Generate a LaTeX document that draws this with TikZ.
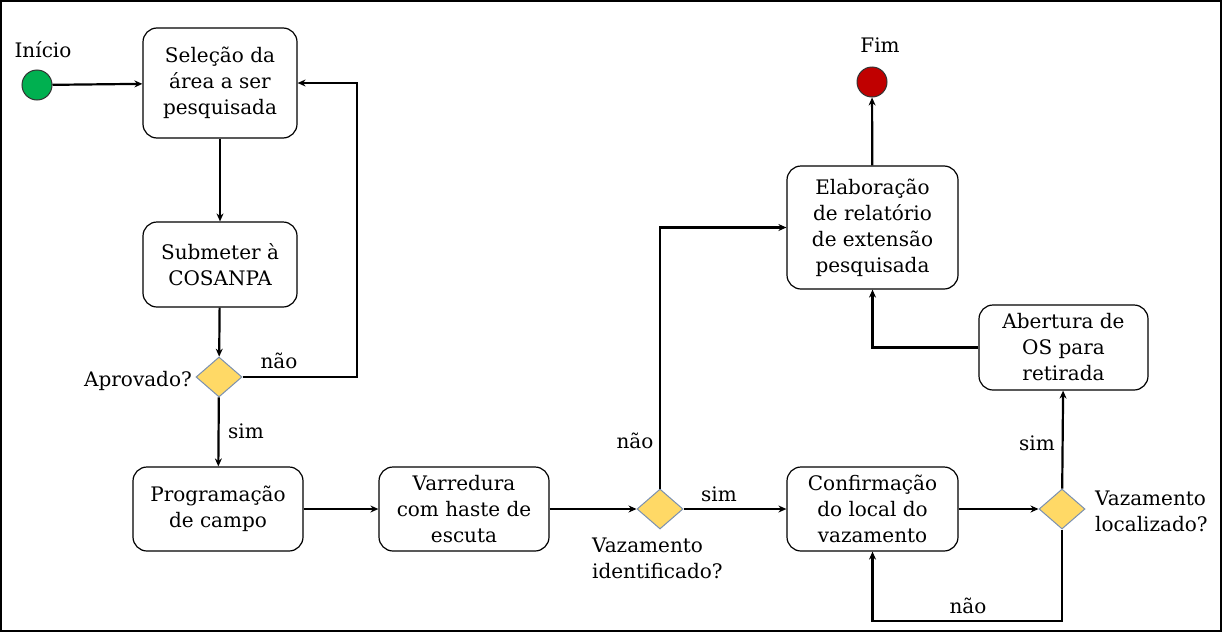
\documentclass[tikz,border=0pt]{standalone}
\usepackage{fontspec}
\setmainfont{DejaVu Serif}
\usetikzlibrary{shapes.geometric,arrows.meta}
\definecolor{startg}{HTML}{00B050}
\definecolor{endr}{HTML}{C00000}
\definecolor{dfill}{HTML}{FFD966}
\definecolor{dline}{HTML}{7A90B0}
\tikzset{
  box/.style={draw, rounded corners=14pt, line width=1.2pt, align=center, inner sep=2pt,
    font=\fontsize{20}{26}\selectfont},
  dec/.style={draw=dline, fill=dfill, diamond, aspect=1.15, minimum width=46pt, minimum height=40pt, inner sep=0pt, line width=1pt},
  term/.style={circle, draw=black!80, line width=1pt, minimum size=30pt, inner sep=0pt},
  conn/.style={line width=2.2pt, -{Stealth[length=8pt,width=7pt]}},
  lbl/.style={font=\fontsize{20}{26}\selectfont, inner sep=0pt, align=left},
}
\begin{document}
\begin{tikzpicture}[x=1pt,y=-1pt]
\useasboundingbox (0,0) rectangle (1222,632);
\draw[line width=2.2pt] (1,1) rectangle (1221,631);

% nodes
\node[term, fill=startg] (start) at (37,85) {};
\node[lbl] (tstart) at (43,50) {Início};
\node[box, minimum width=154pt, minimum height=110pt] (b1) at (220,83) {Seleção da\\área a ser\\pesquisada};
\node[box, minimum width=154pt, minimum height=85pt] (b2) at (220,264.5) {Submeter à\\COSANPA};
\node[dec] (d1) at (219,377) {};
\node[lbl, anchor=east] (t1) at (192,381) {Aprovado?};
\node[lbl] (nao1) at (279,361) {não};
\node[lbl] (sim1) at (246,431) {sim};
\node[box, minimum width=170pt, minimum height=84pt] (b3) at (218,509) {Programação\\de campo};
\node[box, minimum width=170pt, minimum height=84pt] (b4) at (464,509) {Varredura\\com haste de\\escuta};
\node[dec] (d2) at (660,509) {};
\node[lbl, anchor=north west] (t2) at (592,538) {Vazamento\\identificado?};
\node[lbl] (nao2) at (635,441) {não};
\node[lbl] (sim2) at (719,494) {sim};
\node[box, minimum width=171pt, minimum height=84pt] (b6) at (872.5,509) {Confirmação\\do local do\\vazamento};
\node[dec] (d3) at (1062,509) {};
\node[lbl, anchor=west] (t3) at (1095,511) {Vazamento\\localizado?};
\node[lbl] (sim3) at (1037,443) {sim};
\node[lbl] (nao3) at (968,606) {não};
\node[box, minimum width=169pt, minimum height=85pt] (b7) at (1063.5,347.5) {Abertura de\\OS para\\retirada};
\node[box, minimum width=171pt, minimum height=123pt] (b5) at (872.5,227.5) {Elaboração\\de relatório\\de extensão\\pesquisada};
\node[term, fill=endr] (fim) at (872,82) {};
\node[lbl] (tfim) at (880,45) {Fim};

\coordinate (c1) at (357,377);
\coordinate (c3) at (1062,621);

% connectors
\draw[conn] (start) -- (b1);
\draw[conn] (b1) -- (b2);
\draw[conn] (b2) -- (d1);
\draw[conn] (d1.east) -- (c1) |- (b1.east);
\draw[conn] (d1) -- (b3);
\draw[conn] (b3) -- (b4);
\draw[conn] (b4) -- (d2);
\draw[conn] (d2.north) |- (b5.west);
\draw[conn] (d2) -- (b6);
\draw[conn] (b6) -- (d3);
\draw[conn] (d3) -- (b7);
\draw[conn] (b7.west) -| (b5.south);
\draw[conn] (b5) -- (fim);
\draw[conn] (d3.south) -- (c3) -| (b6.south);
\end{tikzpicture}
\end{document}
